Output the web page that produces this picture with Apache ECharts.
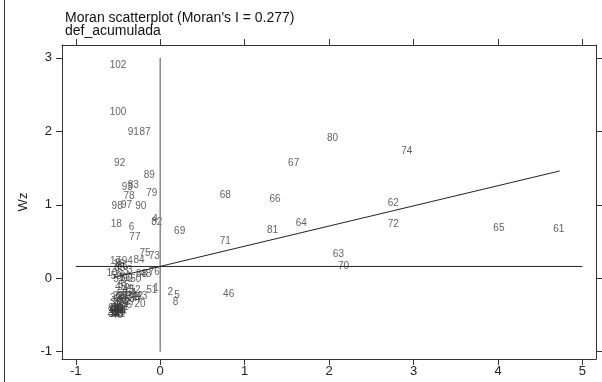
<!DOCTYPE html>
<html>
<head>
<meta charset="utf-8">
<script src="https://cdn.jsdelivr.net/npm/echarts@6/dist/echarts.min.js"></script>
<style>
html, body { margin: 0; padding: 0; background: #fff; }
#main { width: 602px; height: 382px; }
</style>
</head>
<body>
<div id="main"></div>
<script>
// Moran scatterplot: z (x) against Wz (y), each point labelled by its id
var ids = [
	1, 2, 3, 4, 5, 6, 7, 8, 9, 10,
	11, 12, 13, 14, 15, 16, 17, 18, 19, 20,
	21, 22, 23, 24, 25, 26, 27, 28, 29, 30,
	31, 32, 33, 34, 35, 36, 37, 38, 39, 40,
	41, 42, 43, 44, 45, 46, 47, 48, 49, 50,
	51, 52, 53, 54, 55, 56, 57, 58, 59, 60,
	61, 62, 63, 64, 65, 66, 67, 68, 69, 70,
	71, 72, 73, 74, 75, 76, 77, 78, 79, 80,
	81, 82, 83, 84, 85, 86, 87, 88, 89, 90,
	91, 92, 93, 94, 95, 96, 97, 98, 99, 100,
	101, 102
];
var zValues = [
	-0.05, 0.12, -0.36, -0.06, 0.20, -0.34, -0.52, 0.18, -0.50, -0.57,
	-0.54, -0.50, -0.48, -0.55, -0.51, -0.49, -0.53, -0.52, -0.47, -0.24,
	-0.53, -0.50, -0.45, -0.49, -0.56, -0.47, -0.36, -0.42, -0.44, -0.52,
	-0.46, -0.33, -0.40, -0.30, -0.40, -0.52, -0.55, -0.49, -0.53, -0.51,
	-0.48, -0.27, -0.22, -0.54, -0.47, 0.81, -0.50, -0.17, -0.38, -0.29,
	-0.10, -0.30, -0.44, -0.35, -0.43, -0.41, -0.49, -0.45, -0.52, -0.39,
	4.72, 2.76, 2.11, 1.67, 4.01, 1.36, 1.58, 0.77, 0.23, 2.17,
	0.77, 2.76, -0.07, 2.92, -0.18, -0.07, -0.30, -0.37, -0.10, 2.04,
	1.33, -0.04, -0.32, -0.25, -0.48, -0.45, -0.18, -0.22, -0.13, -0.23,
	-0.32, -0.48, -0.39, -0.39, -0.53, -0.49, -0.40, -0.51, -0.55, -0.50,
	-0.47, -0.50
];
var wzValues = [
	-0.14, -0.19, 0.11, 0.80, -0.23, 0.69, -0.45, -0.33, 0.20, 0.07,
	-0.47, -0.48, -0.44, -0.43, -0.42, 0.19, 0.23, 0.73, -0.47, -0.35,
	-0.49, -0.24, -0.25, -0.46, -0.46, -0.28, -0.33, -0.30, -0.35, -0.41,
	-0.43, -0.26, -0.24, -0.28, -0.37, -0.34, -0.49, -0.33, -0.27, -0.50,
	-0.49, -0.25, -0.24, -0.44, -0.12, -0.22, -0.45, 0.06, -0.15, -0.02,
	-0.17, -0.16, 0.09, -0.20, -0.10, 0.00, -0.02, -0.22, 0.03, -0.02,
	0.67, 1.02, 0.33, 0.75, 0.68, 1.08, 1.57, 1.13, 0.64, 0.16,
	0.50, 0.74, 0.30, 1.73, 0.34, 0.08, 0.56, 1.11, 1.15, 1.91,
	0.65, 0.76, 1.26, 0.24, 0.13, 0.16, 1.99, 0.05, 1.40, 0.98,
	1.99, 1.57, 1.24, 0.23, -0.44, -0.42, 0.99, 0.98, -0.41, 2.26,
	-0.40, 2.90
];

// reference lines
var meanWz = 0.16;
var hLineX = [-1, 5];
var vLineY = [-1, 3];
var fitX = [-0.55, 4.73];
var fitY = [0.01, 1.46];

var xTicks = [-1, 0, 1, 2, 3, 4, 5];
var yTicks = [-1, 0, 1, 2, 3];

var points = [];
for (var i = 0; i < ids.length; i++) {
	points.push([zValues[i], wzValues[i], ids[i]]);
}

var font = 'Liberation Sans, Arial, sans-serif';
var xMin = -1.163, xMax = 5.16, yMin = -1.10, yMax = 3.175;

function frameAxis(pos, isX, showLabels) {
	return {
		type: 'value',
		position: pos,
		min: isX ? xMin : yMin,
		max: isX ? xMax : yMax,
		splitLine: { show: false },
		axisLine: { show: true, onZero: false, lineStyle: { color: '#333', width: 1 } },
		axisTick: {
			show: true,
			length: 6,
			inside: false,
			customValues: isX ? xTicks : yTicks,
			lineStyle: { color: '#333', width: 1 }
		},
		axisLabel: {
			show: showLabels,
			customValues: isX ? xTicks : yTicks,
			color: '#222',
			fontSize: 13,
			fontFamily: font,
			margin: 6
		}
	};
}

var chart = echarts.init(document.getElementById('main'));

var xBottom = frameAxis('bottom', true, true);
var xTop = frameAxis('top', true, false);
var yLeft = frameAxis('left', false, true);
yLeft.name = 'Wz';
yLeft.nameLocation = 'middle';
yLeft.nameGap = 32;
yLeft.nameRotate = 90;
yLeft.nameTextStyle = { color: '#222', fontSize: 13, fontFamily: font };
yLeft.axisLabel.margin = 10;
var yRight = frameAxis('right', false, false);

var option = {
	animation: false,
	backgroundColor: '#fff',
	title: {
		text: "Moran scatterplot (Moran's I = 0.277)\ndef_acumulada",
		left: 60,
		top: 7,
		textStyle: { color: '#111', fontSize: 14, fontWeight: 'normal', fontFamily: font, lineHeight: 13 }
	},
	grid: { left: 62, right: 6, top: 45, bottom: 23 },
	xAxis: [xBottom, xTop],
	yAxis: [yLeft, yRight],
	graphic: [{
		type: 'line',
		shape: { x1: 4.5, y1: 0, x2: 4.5, y2: 382 },
		style: { stroke: '#333', lineWidth: 1 }
	}],
	series: [
		{
			type: 'line',
			data: [[0, vLineY[0]], [0, vLineY[1]]],
			symbol: 'none',
			lineStyle: { color: '#888', width: 1.5 },
			silent: true
		},
		{
			type: 'line',
			data: [[hLineX[0], meanWz], [hLineX[1], meanWz]],
			symbol: 'none',
			lineStyle: { color: '#222', width: 1 },
			silent: true
		},
		{
			type: 'line',
			data: [[fitX[0], fitY[0]], [fitX[1], fitY[1]]],
			symbol: 'none',
			lineStyle: { color: '#222', width: 1 },
			silent: true
		},
		{
			type: 'scatter',
			data: points,
			symbolSize: 0,
			label: {
				show: true,
				position: 'inside',
				formatter: function (p) { return String(p.value[2]); },
				color: '#3a3a3a',
				fontSize: 10,
				fontFamily: font
			},
			labelLayout: { hideOverlap: false },
			silent: true
		}
	]
};
chart.setOption(option);
</script>
</body>
</html>
